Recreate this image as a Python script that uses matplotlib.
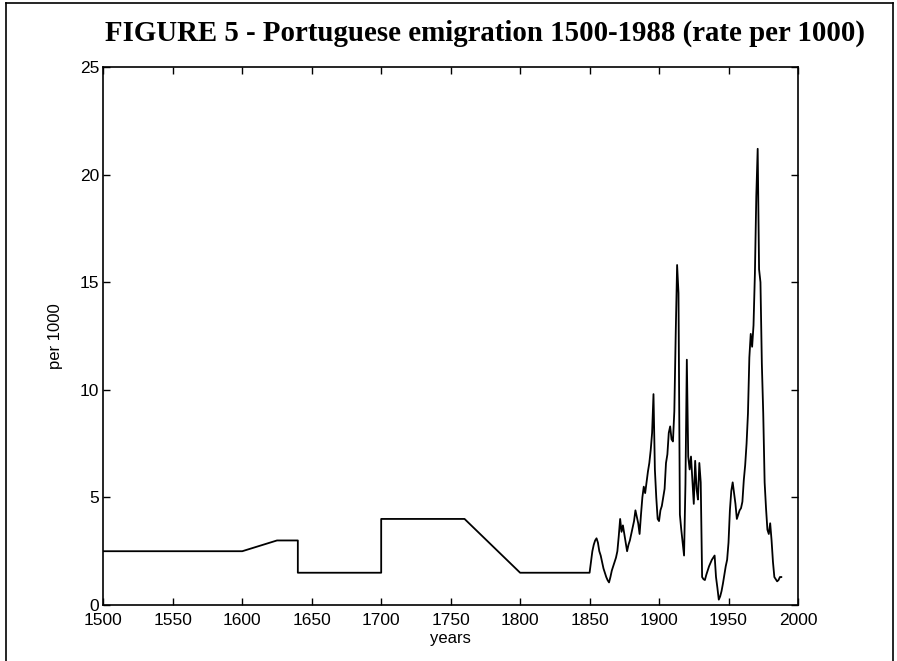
import numpy as np
import matplotlib
matplotlib.use("Agg")
import matplotlib.pyplot as plt
from matplotlib.lines import Line2D

# early period: piecewise estimates (year, rate per 1000)
early_years = [1500, 1600, 1625, 1640, 1640, 1700, 1700, 1760, 1800, 1850]
early_rate = [2.5, 2.5, 3.0, 3.0, 1.5, 1.5, 4.0, 4.0, 1.5, 1.5]

# annual series 1851-1988
annual_start = 1851
annual_rate = [
    2.0, 2.5, 2.8, 3.0, 3.1, 2.9, 2.5, 2.3, 2.0,            # 1851-1859
    1.7, 1.5, 1.3, 1.15, 1.05, 1.3, 1.6, 1.8, 2.0, 2.2,     # 1860-1869
    2.5, 3.2, 4.0, 3.4, 3.7, 3.3, 2.9, 2.5, 2.8, 3.0,       # 1870-1879
    3.3, 3.6, 3.9, 4.4, 4.1, 3.8, 3.3, 4.2, 5.0, 5.5,       # 1880-1889
    5.2, 5.7, 6.2, 6.6, 7.2, 8.0, 9.8, 6.3, 5.0, 4.0,       # 1890-1899
    3.9, 4.4, 4.6, 5.0, 5.4, 6.6, 7.0, 8.0, 8.3, 7.7,       # 1900-1909
    7.6, 9.0, 12.6, 15.8, 14.5, 4.2, 3.5, 2.9, 2.3, 5.6,    # 1910-1919
    11.4, 6.9, 6.3, 6.9, 5.8, 4.7, 6.7, 5.4, 4.9, 6.6,      # 1920-1929
    5.7, 1.3, 1.2, 1.16, 1.4, 1.6, 1.8, 1.95, 2.1, 2.2,     # 1930-1939
    2.3, 1.3, 0.8, 0.25, 0.4, 0.65, 1.0, 1.4, 1.8, 2.1,     # 1940-1949
    2.9, 4.4, 5.3, 5.7, 5.2, 4.7, 4.0, 4.2, 4.4, 4.5,       # 1950-1959
    4.8, 5.8, 6.5, 7.5, 8.9, 11.5, 12.6, 12.0, 13.0, 15.4,  # 1960-1969
    19.0, 21.2, 15.6, 15.0, 11.2, 8.9, 5.7, 4.5, 3.5, 3.3,  # 1970-1979
    3.8, 3.0, 2.0, 1.3, 1.2, 1.1, 1.16, 1.3, 1.3,           # 1980-1988
]

x_ticks = [1500, 1550, 1600, 1650, 1700, 1750, 1800, 1850, 1900, 1950, 2000]
y_ticks = [0, 5, 10, 15, 20, 25]

years = early_years + list(range(annual_start, annual_start + len(annual_rate)))
rate = early_rate + annual_rate

plt.rcParams['font.family'] = ['Liberation Sans', 'DejaVu Sans']

fig = plt.figure(figsize=(8.97, 6.61), dpi=100)
ax = fig.add_axes([0.1152, 0.0847, 0.7744, 0.8139])

ax.plot(years, rate, color='black', linewidth=1.3)

ax.set_xlim(1500, 2000)
ax.set_ylim(0, 25)
ax.set_xticks(x_ticks)
ax.set_yticks(y_ticks)
ax.tick_params(direction='in', length=5, width=1, top=True, right=True,
               labelsize=12.5)
ax.tick_params(axis='x', pad=6)
ax.tick_params(axis='y', pad=3)
for s in ax.spines.values():
    s.set_linewidth(1.2)

ax.set_xlabel('years', fontsize=12, labelpad=2)
ax.set_ylabel('per 1000', fontsize=12, labelpad=12)

fig.text(0.541, 0.95, 'FIGURE 5 - Portuguese emigration 1500-1988 (rate per 1000)',
         ha='center', va='center', fontsize=20.8, fontweight='bold',
         family='Liberation Serif')

# page frame around the figure (left, top, right)
fig.add_artist(Line2D([0.007, 0.007], [0, 0.995], color='black', linewidth=1.2,
                      transform=fig.transFigure))
fig.add_artist(Line2D([0.007, 0.996], [0.995, 0.995], color='black', linewidth=1.2,
                      transform=fig.transFigure))
fig.add_artist(Line2D([0.996, 0.996], [0, 0.995], color='black', linewidth=1.2,
                      transform=fig.transFigure))

fig.savefig('out.png', dpi=100)
